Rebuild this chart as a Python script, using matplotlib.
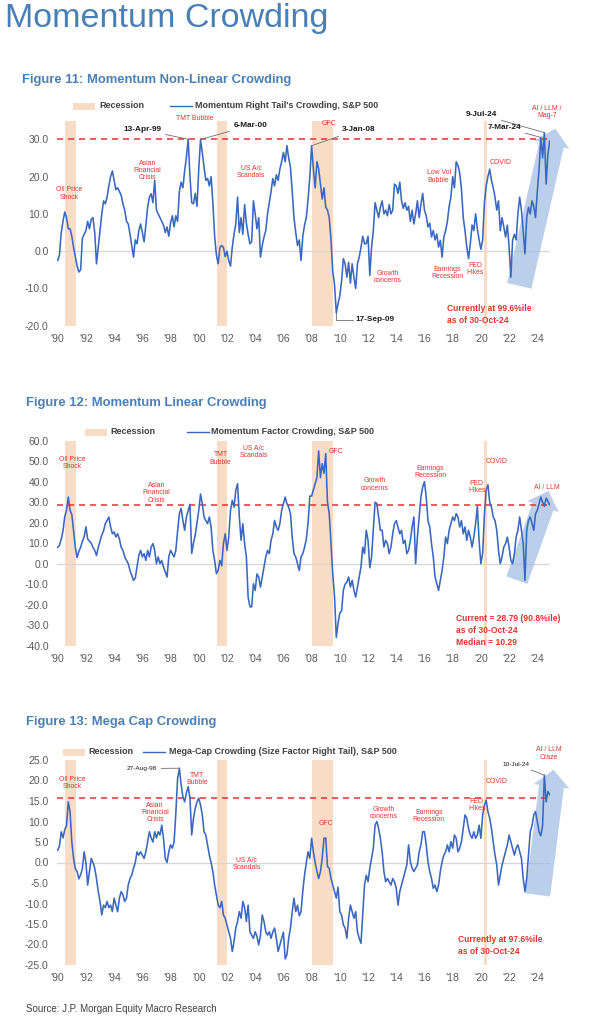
"""Momentum crowding panels (Figures 11-13), redrawn with matplotlib."""

import matplotlib

matplotlib.use("Agg")
import matplotlib.pyplot as plt
import numpy as np
from matplotlib import font_manager
from matplotlib.lines import Line2D
from matplotlib.patches import ArrowStyle, FancyArrowPatch, Rectangle

W, H = 606, 1024

installed = {f.name for f in font_manager.fontManager.ttflist}
HAS_NARROW = "Liberation Sans Narrow" in installed
NARROW = "Liberation Sans Narrow" if HAS_NARROW else "Liberation Sans"
REGULAR = "Liberation Sans"
# the regular face is wider than the original narrow face, so shrink it a bit
K = 1.0 if HAS_NARROW else 0.83

BLUE_TITLE = "#4a7fb5"
LINE_BLUE = "#3a68c0"
RED = "#e2332f"
PEACH = "#f9dcc6"
ARROW_BLUE = "#9fbbe2"
GREY_TXT = "#595959"

# ---- data: values sampled every 1/8 year starting Jan 1990 ----
START_YEAR = 1990.0
STEP = 1 / 8

recessions = [(1990.55, 1991.3), (2001.3, 2002.0), (2008.0, 2009.5), (2020.2, 2020.4)]

nonlinear_crowding = [
    -2.5, -1, 5, 8, 10.5, 9, 6, 6,
    4, 1, -1.5, -4, -5.6, -5, 3.5, 4.5,
    5.5, 8, 6, 8.5, 9, 5, -3.4, 1,
    5.5, 10, 13.5, 12.7, 14.5, 17.5, 20, 21.5,
    19, 16.5, 17, 16, 15, 12.7, 11, 8,
    7.3, 4.6, 1.5, -1.6, 3, 2, 5.5, 7.3,
    5, 2.5, 7, 11.8, 14.5, 15.4, 13, 19,
    11, 10, 9, 8, 7, 5, 6.5, 4,
    7.5, 9.5, 6.5, 9.5, 8, 16, 18.5, 17,
    21.6, 25.2, 30, 20, 13, 12.7, 15.5, 12,
    22, 29.8, 26.5, 22.5, 19, 19.5, 17.5, 20,
    13, 4, -1, -3.4, 1, 1.5, 1, -1.5,
    0, -2.5, -4, 1, 4.6, 7.3, 14.5, 5,
    9, 4.5, 12.5, 7.5, 4.5, 2, 2.5, 13.5,
    10, 6, 9, -1.6, 1.5, 3.8, 5.5, 10,
    13, 16, 19.5, 17.5, 20.5, 19, 22, 24,
    26.5, 24, 28.3, 25, 22.5, 16, 9, 5,
    1.5, 3, -2.5, 4, 7, 9, 14, 20,
    28.3, 22, 17, 24, 22, 18, 14, 17,
    11.8, 11, 9, 3, -5.5, -9, -16.6, -14,
    -12, -8, -2, -3.4, -7, -3, -8.6, -3.4,
    -7, -10, -3.4, -1.6, 1, 4, 2, 2,
    4, -6.5, 1, 5.5, 13, 11, 9, 11.8,
    13.5, 10, 11, 9.5, 12.5, 10, 11, 18,
    17.5, 15.5, 18.5, 13.5, 11.5, 13, 11, 12,
    8, 11, 7.3, 10, 13.5, 9, 12.5, 15.5,
    11, 9.5, 6.5, 7.5, 3.8, 5.5, 3, 4.6,
    1.1, 2.9, -1.6, 3.8, 5.5, 8, 12, 14.5,
    20, 17, 24, 23, 21, 16.5, 9, 5.5,
    1.1, -2, 2, 7, 5.5, 10, 6, 3,
    0.5, 3, 13, 17.5, 20, 22, 19, 17,
    14.5, 11, 13.5, 5.5, 9, 6.5, 3.8, 7,
    1, -7, 3, 4.5, 3, 10, 14.5, 11,
    5.5, -0.7, 9, 11.8, 10, 13.5, 12, 9,
    16, 22, 30.5, 25, 31.8, 18, 26, 29.5,
]

linear_crowding = [
    8, 9, 12, 16, 23, 26, 32.5, 26,
    24, 16, 8, 3, 6, 8, 11, 13,
    18, 12, 11, 10, 8, 6.5, 4, 8,
    11, 14, 16, 19.5, 21, 22.8, 18, 14.6,
    15.5, 13, 14.6, 12, 8, 6.5, 3.3, 1.6,
    0, -3.3, -5.7, -8.1, -7, -1.6, 4, 6.5,
    3.3, 4.9, 1.6, 6.5, 3.3, 8.1, 9.8, 6.5,
    0, 3.3, 0, 1.6, -1.6, -4, -6.5, 3.3,
    6.5, 4.9, 3.3, 6.5, 16, 24.4, 27, 21,
    16.3, 22.8, 26, 29, 5, 10, 14, 20,
    26, 34, 29.3, 22.8, 21, 19.5, 22.8, 17.9,
    6.5, 1.6, -4.9, -3.3, 1.6, -1, 9.8, 14.6,
    6.5, 13, 26, 30.9, 27.6, 35.8, 39, 22.8,
    11.4, 19.5, 9.8, 3.3, -16.3, -21, -21.1, -9.8,
    -13, -5, -6.5, -11.4, -6.5, -1.6, 3.3, 6.5,
    4.9, 11.4, 14.6, 21.1, 17.9, 16.3, 19.5, 26,
    29.3, 32.5, 29.3, 27.6, 24.4, 13, 4.9, 3.3,
    0, -3.3, 3.3, 4.9, 8, 12, 20, 33,
    33, 36, 39, 42, 55, 42, 48.8, 44,
    53.7, 30, 24.4, 10, -5, -16, -36, -29,
    -24, -23, -13, -10, -9, -6.5, -11.4, -8.1,
    -13, -16.3, -11.4, -6.5, -1.6, 8.1, 4.9, 16.3,
    11.4, -2, 3.3, 16.3, 30, 29.3, 22.8, 16.3,
    16.3, 8.1, 11.4, 9.8, 4.9, 8.1, 14.6, 19.5,
    21, 17.9, 14.6, 16.3, 9.8, 11.4, 4.9, 6.5,
    11.4, 17.9, 22.8, 0, 13, 22.8, 32.5, 37.4,
    40, 32.5, 21, 17.9, 9.8, 3.3, -6.5, -9.8,
    -13, -8.1, -3.3, 3.3, 13, 9.8, 16.3, 19.5,
    22.8, 21, 24.4, 22.8, 17.9, 21, 14.6, 17.9,
    11.4, 16.3, 13, 8.1, 13, 19.5, 28, 11,
    0, 4.9, 24, 36, 38.5, 30, 27.6, 22.8,
    21.1, 16.3, 6.5, 0, 3.3, 8.1, 9.8, 13,
    8.1, 1.6, 0, 4.9, 13, 16.3, 22.8, 16.3,
    9.8, -8.1, 16.3, 21.1, 22.8, 19.5, 16.3, 24.4,
    26, 29.3, 32.5, 30, 28, 32, 30.5, 28.79,
]

megacap_crowding = [
    3, 4, 7.5, 6, 8, 9, 14.8, 12.4,
    5, 1, -1.5, -2.2, -4, -3, -1.5, 2.6,
    0, -5.5, -2.2, 1, 0, -1.4, -4, -7.1,
    -9.5, -12.8, -10.4, -11, -9.5, -11, -10.4, -12,
    -8.7, -10.4, -12, -8.7, -7.1, -7.9, -9.5, -8.7,
    -5.5, -3.9, -3.1, -1.4, 0, 2.6, 1.8, 2.6,
    1.8, 1, 2.6, 5, 7.5, 6, 5, 7.5,
    6, 7.5, 6.7, 9.1, 5.9, 1, 0, 2.6,
    4.3, 3.5, 5, 12, 20.5, 23, 19, 16,
    14.8, 17, 18.5, 15.7, 6.7, 10.8, 13.2, 14.8,
    15.7, 14, 11.6, 7.5, 6.7, 4.3, 1.8, 0,
    -2.2, -5.5, -8, -10.4, -11, -9.5, -12.8, -13.6,
    -15.2, -16.9, -18.5, -21.7, -19.3, -16, -14.4, -12,
    -13.6, -9.5, -11, -14.4, -10.4, -16.9, -17.7, -18.5,
    -16.9, -18, -20.1, -17.7, -12.8, -14.4, -16.9, -17.7,
    -16.9, -18.5, -16.9, -16, -18.5, -21.7, -20.1, -18.5,
    -17, -23.5, -22.5, -18.5, -16, -12, -8.7, -12,
    -10.4, -13, -12, -7, -3, 0, 2.6, 1,
    5.9, 2.6, 0, -2.2, -3.9, -2.2, 1, 5.9,
    6, -1, -1.4, -3.9, -5.5, -7.1, -8.7, -6,
    -12, -12.8, -15.2, -16, -18.5, -13.6, -10.4, -12,
    -13.6, -12, -16.9, -18.5, -19.7, -12.8, -5.5, -3.1,
    -4.7, -1.4, 1, 3.5, 9.1, 10, 8.3, 5.9,
    2.6, -2.2, -4.7, -3.9, -4.7, -5.5, -3.9, -4.7,
    -6.3, -10.4, -7.1, -5.5, -3.9, -2.2, -0.6, 4.3,
    0.2, -1.4, -2.2, -1.4, -0.6, 2.6, 4.3, 7.5,
    7.5, 4.3, 0.2, -2.2, -3.9, -6.3, -5.5, -7.1,
    -5.5, -2.2, 0.2, 1.8, 2.6, 4.3, 2.6, 5.1,
    3.5, 6.7, 5.9, 2.6, 3.5, 5.1, 8.3, 11.6,
    10.8, 8.3, 6.7, 5.9, 7.5, 5.9, 6.7, 9.1,
    5.9, 11.6, 14, 15.2, 12.4, 10.8, 8.3, 5.1,
    1.8, -0.6, -5.5, -3, -0.6, 1, 2.6, 4.3,
    6.7, 5.1, 3.5, 1.8, 3.5, 4.3, 2.6, 1,
    -3.9, -7.1, -3.9, 1.8, 7.5, 9, 11.6, 12.4,
    10, 7.5, 6.5, 9, 21.3, 14.8, 17.3, 16.5,
]

nonlinear_threshold = 30.0
linear_threshold = 28.79
megacap_threshold = 15.7

tick_years = list(range(1990, 2025, 2))
tick_labels = [f"'{y % 100:02d}" for y in tick_years]


def years_for(values):
    return START_YEAR + STEP * np.arange(len(values))


def fx(x):
    return x / W


def fy(y):
    return 1 - y / H


def draw_legend(fig, y, patch_x, rec_x, line_x, text_x, label):
    fig.add_artist(Rectangle((fx(patch_x), fy(y + 3.5)), 22 / W, 7 / H,
                             transform=fig.transFigure, color=PEACH, lw=0))
    fig.text(fx(rec_x), fy(y), "Recession", family=NARROW, weight="bold",
             fontsize=7.8 * K, color="#404040", va="center")
    fig.add_artist(Line2D([fx(line_x), fx(line_x + 22)], [fy(y), fy(y)],
                          transform=fig.transFigure, color=LINE_BLUE, lw=1.0))
    fig.text(fx(text_x), fy(y), label, family=NARROW, weight="bold",
             fontsize=7.8 * K, color="#404040", va="center")


def setup_axes(fig, top_px, ylim, yticks):
    ax = fig.add_axes([fx(57), fy(top_px + 205), 493 / W, 205 / H])
    ax.set_xlim(1989.95, 2024.9)
    ax.set_ylim(*ylim)
    for s in ax.spines.values():
        s.set_visible(False)
    ax.set_yticks(yticks)
    ax.set_yticklabels([f"{v:.1f}" for v in yticks])
    ax.set_xticks(tick_years)
    ax.set_xticklabels(tick_labels)
    ax.tick_params(length=0, labelsize=7.5, labelcolor=GREY_TXT, pad=6)
    for lab in ax.get_xticklabels() + ax.get_yticklabels():
        lab.set_family(REGULAR)
    ax.axhline(0, color="#d6d6d6", lw=0.9, zorder=1)
    for a, b in recessions:
        ax.axvspan(a, b, color=PEACH, lw=0, zorder=0)
    return ax


def red_note(ax, x, y, text, size=6.0, bold=False, ha="center", spacing=1.05):
    ax.text(x, y, text, color=RED, fontsize=size * K, family=NARROW, ha=ha,
            va="center", weight="bold" if bold else "normal",
            linespacing=spacing, clip_on=False, zorder=6)


def status_note(ax, x, y, text):
    red_note(ax, x, y, text, size=7.4, bold=True, ha="left", spacing=1.45)


def date_note(ax, xt, yt, xp, yp, text, size=7.2, bold=True):
    ax.annotate(text, xy=(xp, yp), xytext=(xt, yt), ha="center", va="center",
                fontsize=size * K, family=NARROW, weight="bold" if bold else "normal",
                color="#1a1a1a", annotation_clip=False, zorder=6,
                arrowprops=dict(arrowstyle="-", color="#707070", lw=0.6,
                                shrinkA=1, shrinkB=0))


def big_arrow(ax, tail, tip, tail_w=18, head_w=26, head_l=12):
    style = ArrowStyle.Simple(head_length=head_l, head_width=head_w, tail_width=tail_w)
    ax.add_patch(FancyArrowPatch(tail, tip, arrowstyle=style, mutation_scale=1,
                                 shrinkA=0, shrinkB=0, facecolor=ARROW_BLUE,
                                 edgecolor="none", alpha=0.7, zorder=2, clip_on=False))


def threshold(ax, level):
    ax.axhline(level, color=RED, lw=1.1, dashes=(4, 3.2), zorder=4)


def series(ax, values):
    ax.plot(years_for(values), values, color=LINE_BLUE, lw=1.15, zorder=5)


fig = plt.figure(figsize=(W / 100, H / 100), dpi=100)
fig.patch.set_facecolor("white")

fig.text(fx(5), fy(27), "Momentum Crowding", family=REGULAR, fontsize=24.5,
         color=BLUE_TITLE, va="baseline")

# ---------------- Figure 11 ----------------
fig.text(fx(22), fy(80), "Figure 11: Momentum Non-Linear Crowding", family=NARROW,
         weight="bold", fontsize=11.3 * K, color=BLUE_TITLE, va="center")
draw_legend(fig, 106, 73, 99, 170, 195, "Momentum Right Tail's Crowding, S&P 500")
ax1 = setup_axes(fig, 120.7, (-20, 35), [-20, -10, 0, 10, 20, 30])
big_arrow(ax1, (2022.72, -9.3), (2025.27, 32.9))
threshold(ax1, nonlinear_threshold)
series(ax1, nonlinear_crowding)

red_note(ax1, 1990.8, 15.5, "Oil Price\nShock")
red_note(ax1, 1996.35, 21.6, "Asian\nFinancial\nCrisis")
red_note(ax1, 1999.7, 35.6, "TMT Bubble")
red_note(ax1, 2003.7, 21.3, "US A/c\nScandals")
red_note(ax1, 2009.2, 34.3, "GFC")
red_note(ax1, 2013.4, -7, "Growth\nconcerns")
red_note(ax1, 2017.0, 20, "Low Vol\nBubble")
red_note(ax1, 2017.6, -5.9, "Earnings\nRecession")
red_note(ax1, 2019.6, -4.7, "FED\nHikes")
red_note(ax1, 2021.4, 23.9, "COVID")
red_note(ax1, 2024.7, 37.3, "AI / LLM /\nMag-7")
status_note(ax1, 2017.6, -17, "Currently at 99.6%ile\nas of 30-Oct-24")

date_note(ax1, 1996.0, 32.6, 1999.28, 30.0, "13-Apr-99")
date_note(ax1, 2003.65, 33.7, 2000.15, 30.0, "6-Mar-00")
date_note(ax1, 2011.3, 32.6, 2008.0, 28.3, "3-Jan-08")
date_note(ax1, 2020.07, 36.6, 2024.5, 31.8, "9-Jul-24")
date_note(ax1, 2021.66, 33.2, 2024.25, 30.5, "7-Mar-24")
ax1.plot([2009.75, 2009.75, 2010.9], [-16.6, -18.4, -18.4], color="#707070", lw=0.6,
         clip_on=False, zorder=6)
ax1.text(2012.5, -18.4, "17-Sep-09", ha="center", va="center", fontsize=7.2 * K,
         family=NARROW, weight="bold", color="#1a1a1a", clip_on=False)

# ---------------- Figure 12 ----------------
fig.text(fx(26), fy(403), "Figure 12: Momentum Linear Crowding", family=NARROW,
         weight="bold", fontsize=11.3 * K, color=BLUE_TITLE, va="center")
draw_legend(fig, 432, 85, 110, 187, 211, "Momentum Factor Crowding, S&P 500")
ax2 = setup_axes(fig, 440.7, (-40, 60), list(range(-40, 61, 10)))
big_arrow(ax2, (2022.55, -8), (2024.8, 35.5), tail_w=16, head_w=24, head_l=12)
threshold(ax2, linear_threshold)
series(ax2, linear_crowding)

red_note(ax2, 1991.0, 49.2, "Oil Price\nShock")
red_note(ax2, 1997.0, 34.5, "Asian\nFinancial\nCrisis")
red_note(ax2, 2001.55, 51.3, "TMT\nBubble")
red_note(ax2, 2003.9, 54.5, "US A/c\nScandals")
red_note(ax2, 2009.7, 54.5, "GFC")
red_note(ax2, 2012.5, 38.6, "Growth\nconcerns")
red_note(ax2, 2016.4, 44.8, "Earnings\nRecession")
red_note(ax2, 2019.7, 37.5, "FED\nHikes")
red_note(ax2, 2021.1, 49.7, "COVID")
red_note(ax2, 2024.7, 37, "AI / LLM")
status_note(ax2, 2018.26, -32.7, "Current = 28.79 (90.8%ile)\nas of 30-Oct-24\nMedian = 10.29")

# ---------------- Figure 13 ----------------
fig.text(fx(26), fy(722), "Figure 13: Mega Cap Crowding", family=NARROW,
         weight="bold", fontsize=11.3 * K, color=BLUE_TITLE, va="center")
draw_legend(fig, 752, 63, 88, 143, 169, "Mega-Cap Crowding (Size Factor Right Tail), S&P 500")
ax3 = setup_axes(fig, 760, (-25, 25), list(range(-25, 26, 5)))
big_arrow(ax3, (2024.03, -7.9), (2025.15, 22.6), tail_w=18, head_w=26, head_l=12)
threshold(ax3, megacap_threshold)
series(ax3, megacap_crowding)

red_note(ax3, 1991.0, 19.3, "Oil Price\nShock")
red_note(ax3, 1999.9, 20.4, "TMT\nBubble")
red_note(ax3, 1996.9, 12.2, "Asian\nFinancial\nCrisis")
red_note(ax3, 2003.4, -0.4, "US A/c\nScandals")
red_note(ax3, 2009.0, 9.6, "GFC")
red_note(ax3, 2013.1, 12.0, "Growth\nconcerns")
red_note(ax3, 2016.3, 11.3, "Earnings\nRecession")
red_note(ax3, 2019.7, 14.0, "FED\nHikes")
red_note(ax3, 2021.1, 19.7, "COVID")
red_note(ax3, 2024.8, 26.6, "AI / LLM\nCraze")
status_note(ax3, 2018.35, -20.2, "Currently at 97.6%ile\nas of 30-Oct-24")

date_note(ax3, 1995.97, 22.9, 1998.65, 23.0, "27-Aug-98", size=5.6, bold=False)
date_note(ax3, 2022.5, 23.95, 2024.52, 21.3, "10-Jul-24", size=5.6, bold=False)

fig.text(fx(26), fy(1009), "Source: J.P. Morgan Equity Macro Research", family=REGULAR,
         fontsize=7, color="#404040", va="center")

fig.savefig("out.png", dpi=100, facecolor="white")
